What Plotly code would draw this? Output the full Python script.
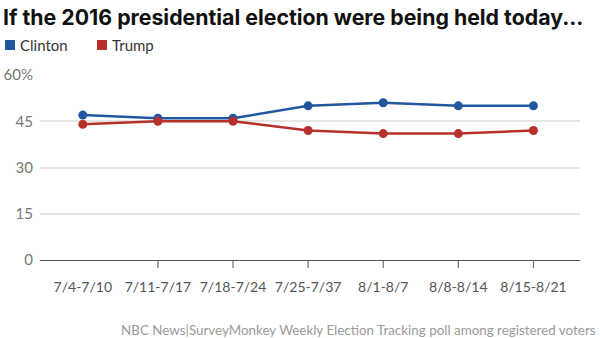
import plotly.graph_objects as go

# Weekly tracking poll, registered voters (%)
weeks = ["7/4-7/10", "7/11-7/17", "7/18-7/24", "7/25-7/37", "8/1-8/7", "8/8-8/14", "8/15-8/21"]
clinton = [47, 46, 46, 50, 51, 50, 50]
trump = [44, 45, 45, 42, 41, 41, 42]
y_ticks = [0, 15, 30, 45, 60]
y_tick_text = ["0", "15", "30", "45", "60%"]

BLUE = "#22569f"
RED = "#b7302b"
LABEL_FONT = "Lato"

# Plot area in pixels: left 40, right 580, top 75, bottom 260
PL, PR, PT, PB = 40, 580, 75, 260
X_RANGE = [-0.57, 6.62]


def px_x(px):
    return (px - PL) / (PR - PL)


def px_y(py):
    return (PB - py) / (PB - PT)


def cat_x(i):
    # paper position of category index i on the x axis
    return (i - X_RANGE[0]) / (X_RANGE[1] - X_RANGE[0])


fig = go.Figure()
for name, vals, color in [("Clinton", clinton, BLUE), ("Trump", trump, RED)]:
    fig.add_trace(go.Scatter(
        x=weeks, y=vals, mode="lines+markers", name=name,
        line=dict(color=color, width=2.5),
        marker=dict(color=color, size=9),
        showlegend=False, hoverinfo="skip", cliponaxis=False,
    ))

# Legend: coloured squares with names
legend_items = [("Clinton", BLUE, 5), ("Trump", RED, 97)]
for name, color, x0 in legend_items:
    fig.add_shape(type="rect", xref="paper", yref="paper",
                  x0=px_x(x0), x1=px_x(x0 + 10),
                  y0=px_y(50), y1=px_y(40),
                  fillcolor=color, line=dict(width=0))
    fig.add_annotation(text=name, xref="paper", yref="paper",
                       x=px_x(x0 + 13), y=px_y(45),
                       xanchor="left", yanchor="middle", showarrow=False,
                       font=dict(family=LABEL_FONT, size=15, color="#333333"))

# Tick marks below the axis for every week after the first
for i in range(1, len(weeks)):
    fig.add_shape(type="line", xref="paper", yref="paper",
                  x0=cat_x(i), x1=cat_x(i), y0=0, y1=px_y(268),
                  line=dict(color="#555555", width=1))

fig.add_annotation(text="<b>If the 2016 presidential election were being held today...</b>",
                   xref="paper", yref="paper", x=px_x(1), y=px_y(17),
                   xanchor="left", yanchor="middle", showarrow=False,
                   font=dict(family="Inter", size=21.3, color="#111111"))
fig.add_annotation(text="NBC News|SurveyMonkey Weekly Election Tracking poll among registered voters",
                   xref="paper", yref="paper", x=px_x(598), y=px_y(330),
                   xanchor="right", yanchor="middle", showarrow=False,
                   font=dict(family=LABEL_FONT, size=13.4, color="#9a9a9a"))

fig.update_layout(
    width=600, height=338,
    margin=dict(l=PL, r=600 - PR, t=PT, b=338 - PB, pad=0),
    paper_bgcolor="white", plot_bgcolor="white",
    xaxis=dict(
        type="category", range=X_RANGE, automargin=False,
        showgrid=False, showline=True, linecolor="#555555", linewidth=1,
        ticks="", tickfont=dict(family=LABEL_FONT, size=14, color="#555555"),
        ticklabelstandoff=14, zeroline=False,
    ),
    yaxis=dict(
        range=[0, 60], tickvals=y_ticks, ticktext=y_tick_text, automargin=False,
        showgrid=True, gridcolor="#e6e6e6", gridwidth=1.5, zeroline=False,
        tickfont=dict(family=LABEL_FONT, size=15, color="#777777"),
        ticklabelstandoff=6,
    ),
)

fig.write_html("out.html")
